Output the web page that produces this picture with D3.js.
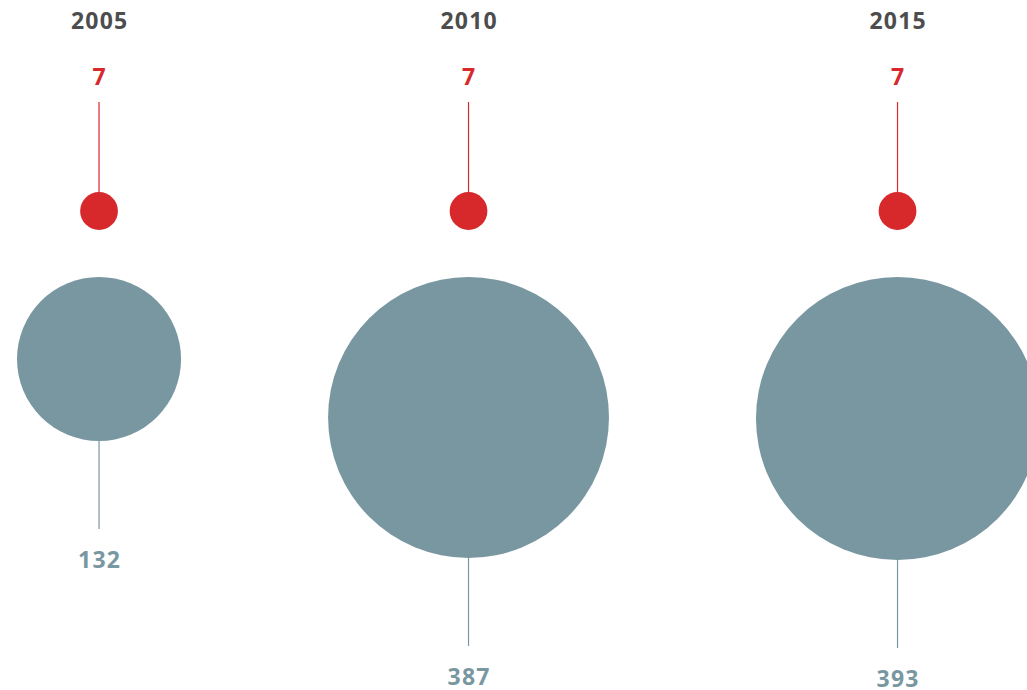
<!DOCTYPE html>
<html>
<head>
<meta charset="utf-8">
<script src="https://cdn.jsdelivr.net/npm/d3@7"></script>
<style>
  body { margin: 0; background: #fff; overflow: hidden; }
  text { font-family: "Open Sans", "Noto Sans", sans-serif; font-weight: 700; letter-spacing: 1.2px; }
</style>
</head>
<body>
<svg id="chart"></svg>
<script>
var years = ["2005", "2010", "2015"];
var redValues = [7, 7, 7];
var grayValues = [132, 387, 393];

var width = 1027, height = 690;
var red = "#d7282c", gray = "#7997a1", dark = "#4d4d4d";

var svg = d3.select("#chart").attr("width", width).attr("height", height);

// area-proportional radius, shared by both circle sets
var r = d3.scaleSqrt().domain([0, 400]).range([0, 142.8]);

// columns packed by radius, constant gap between circle edges
var gap = 147;
var xs = [];
grayValues.forEach(function (v, i) {
  if (i === 0) xs.push(17 + r(v));
  else xs.push(xs[i - 1] + r(grayValues[i - 1]) + gap + r(v));
});

var grayTop = 277, stem = 88;
var redCy = 211;
var ls = 0.6; // half the letter spacing, to keep text centred

var g = svg.selectAll(".col")
  .data(years)
  .enter()
  .append("g")
  .attr("class", "col")
  .attr("transform", function (d, i) { return "translate(" + xs[i] + ",0)"; });

g.append("text")
  .attr("x", ls)
  .attr("y", 29)
  .attr("text-anchor", "middle")
  .attr("font-size", 23)
  .attr("fill", dark)
  .text(function (d) { return d; });

// red part
g.append("line")
  .attr("y1", 102)
  .attr("y2", function (d, i) { return redCy - r(redValues[i]); })
  .attr("stroke", red)
  .attr("stroke-width", 1.2);

g.append("circle")
  .attr("cy", redCy)
  .attr("r", function (d, i) { return r(redValues[i]); })
  .attr("fill", red);

g.append("text")
  .attr("x", ls)
  .attr("y", 85)
  .attr("text-anchor", "middle")
  .attr("font-size", 23)
  .attr("fill", red)
  .text(function (d, i) { return redValues[i]; });

// gray part
g.append("line")
  .attr("y1", function (d, i) { return grayTop + 2 * r(grayValues[i]); })
  .attr("y2", function (d, i) { return grayTop + 2 * r(grayValues[i]) + stem; })
  .attr("stroke", gray)
  .attr("stroke-width", 1.2);

g.append("circle")
  .attr("cy", function (d, i) { return grayTop + r(grayValues[i]); })
  .attr("r", function (d, i) { return r(grayValues[i]); })
  .attr("fill", gray);

g.append("text")
  .attr("x", ls)
  .attr("y", function (d, i) { return grayTop + 2 * r(grayValues[i]) + stem + 39; })
  .attr("text-anchor", "middle")
  .attr("font-size", 23)
  .attr("fill", gray)
  .text(function (d, i) { return grayValues[i]; });
</script>
</body>
</html>
